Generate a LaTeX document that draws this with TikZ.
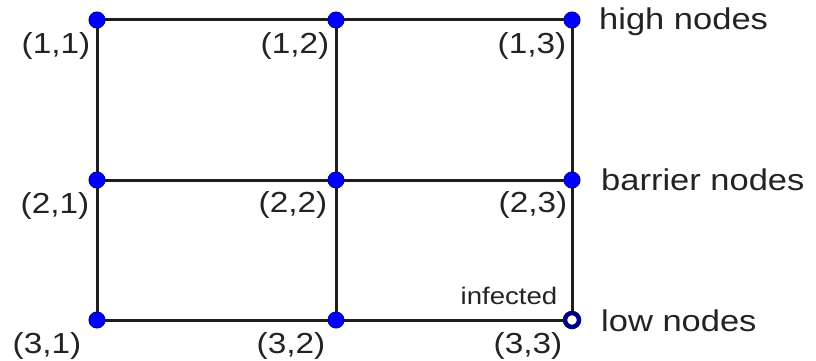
\documentclass[tikz,border=0pt]{standalone}
\usepackage{fontspec}
\setmainfont{Liberation Sans}[FakeStretch=1.15]
\begin{document}
\begin{tikzpicture}[x=1pt,y=-1pt,
  vtx/.style={circle,fill={rgb,255:red,0;green,0;blue,255},draw={rgb,255:red,0;green,0;blue,160},line width=1pt,inner sep=0pt,minimum size=16pt},
  infv/.style={circle,fill=white,draw={rgb,255:red,0;green,0;blue,130},line width=4.5pt,inner sep=0pt,minimum size=14pt},
  edge/.style={line width=3pt,draw={rgb,255:red,30;green,30;blue,30}},
  lbl/.style={inner sep=0pt,text={rgb,255:red,35;green,35;blue,35},font=\fontsize{29}{31}\selectfont},
  side/.style={inner sep=0pt,anchor=west,text={rgb,255:red,35;green,35;blue,35},font=\fontsize{30}{32}\selectfont},
  small/.style={inner sep=0pt,text={rgb,255:red,35;green,35;blue,35},font=\fontsize{24}{26}\selectfont}]
\useasboundingbox (0,0) rectangle (816,361);
% vertices
\coordinate (c11) at (97,20);
\coordinate (c12) at (336,20);
\coordinate (c13) at (572,20);
\coordinate (c21) at (97,180);
\coordinate (c22) at (336,180);
\coordinate (c23) at (572,180);
\coordinate (c31) at (97,320);
\coordinate (c32) at (336,320);
\coordinate (c33) at (572,320);
% edges
\draw[edge] (c11) -- (c12) -- (c13);
\draw[edge] (c21) -- (c22) -- (c23);
\draw[edge] (c31) -- (c32) -- (c33);
\draw[edge] (c11) -- (c21) -- (c31);
\draw[edge] (c12) -- (c22) -- (c32);
\draw[edge] (c13) -- (c23) -- (c33);
% nodes
\node[vtx] (n11) at (c11) {};
\node[vtx] (n12) at (c12) {};
\node[vtx] (n13) at (c13) {};
\node[vtx] (n21) at (c21) {};
\node[vtx] (n22) at (c22) {};
\node[vtx] (n23) at (c23) {};
\node[vtx] (n31) at (c31) {};
\node[vtx] (n32) at (c32) {};
\node[infv] (n33) at (c33) {};
% labels
\node[lbl] (l11) at (56,46) {(1,1)};
\node[lbl] (l12) at (295,46) {(1,2)};
\node[lbl] (l13) at (532,46) {(1,3)};
\node[lbl] (l21) at (55,206) {(2,1)};
\node[lbl] (l22) at (293,205) {(2,2)};
\node[lbl] (l23) at (533,205) {(2,3)};
\node[lbl] (l31) at (47,346) {(3,1)};
\node[lbl] (l32) at (291,346) {(3,2)};
\node[lbl] (l33) at (528,346) {(3,3)};
\node[small] (inf) at (509,296) {infected};
\node[side] (high) at (599,22) {high nodes};
\node[side] (barrier) at (601,180) {barrier nodes};
\node[side] (low) at (601,321) {low nodes};
\end{tikzpicture}
\end{document}
